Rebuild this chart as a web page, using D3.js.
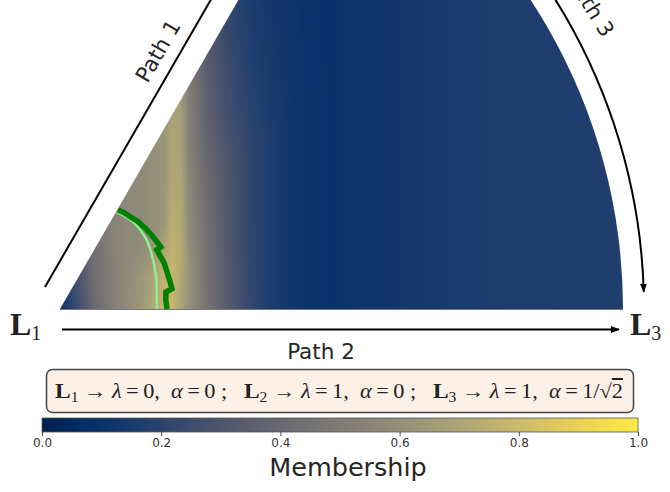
<!DOCTYPE html>
<html><head><meta charset="utf-8">
<script src="https://cdn.jsdelivr.net/npm/d3@7"></script>
<style>body{margin:0;background:#fff;} svg{display:block}</style>
</head><body>
<svg id="chart" width="670" height="492"></svg>
<script>
// ---- data ----
// membership sampled along rays of constant alpha (deg), indexed by horizontal coordinate x (L1 = 0, L3 = 1)
const alphaDeg = [0, 20, 40, 60];
const xGrid = [0, 0.030, 0.060, 0.090, 0.120, 0.150, 0.170, 0.185, 0.200, 0.215, 0.230, 0.260, 0.300, 0.340, 0.380, 0.430, 0.480, 0.550, 0.650, 0.800, 1.000];
const membershipA0  = [0.08,0.24,0.40,0.50,0.58,0.66,0.73,0.78,0.78,0.70,0.60,0.46,0.32,0.22,0.15,0.11,0.10,0.12,0.14,0.16,0.17];
const membershipA20 = [0.08,0.25,0.41,0.51,0.58,0.65,0.71,0.76,0.78,0.72,0.60,0.45,0.31,0.21,0.15,0.11,0.10,0.12,0.14,0.16,0.17];
const membershipA40 = [0.10,0.26,0.42,0.52,0.57,0.58,0.60,0.64,0.74,0.72,0.56,0.42,0.30,0.21,0.15,0.11,0.10,0.12,0.14,0.16,0.17];
const membershipA60 = [0.10,0.27,0.43,0.53,0.57,0.58,0.60,0.63,0.70,0.66,0.50,0.34,0.22,0.15,0.12,0.10,0.10,0.12,0.14,0.16,0.17];
const membershipRows = [membershipA0, membershipA20, membershipA40, membershipA60];

// contour lines in (x, y) data units (L1 = origin, L3 = (1,0))
const contourOuter = [[0.103,0.176],[0.114,0.171],[0.126,0.163],[0.139,0.155],[0.151,0.144],[0.163,0.131],[0.174,0.117],[0.179,0.110],[0.172,0.105],[0.178,0.094],[0.185,0.082],[0.190,0.066],[0.195,0.050],[0.199,0.036],[0.188,0.030],[0.188,0.016],[0.190,0.000]];
const contourInner = [[0.101,0.172],[0.115,0.165],[0.130,0.155],[0.144,0.139],[0.155,0.121],[0.162,0.101],[0.167,0.080],[0.171,0.057],[0.172,0.032],[0.172,0.000]];

const cbTicks = [0, 0.2, 0.4, 0.6, 0.8, 1.0];
const pathLabels = ["Path 1", "Path 2", "Path 3"];
const vertexLabels = [{name:"L", sub:"1"}, {name:"L", sub:"3"}];
const sectorAngleDeg = 60;

// ---- layout ----
const svg = d3.select("#chart");
const W = 670, H = 492;
const ox = 60, oy = 309, R = 563;
const xS = d3.scaleLinear().domain([0, 1]).range([ox, ox + R]);
const yS = d3.scaleLinear().domain([0, 1]).range([oy, oy - R]);
const color = d3.scaleSequential(d3.interpolateCividis).domain([0, 1]);

function idxFrac(arr, v) {
  if (v <= arr[0]) return [0, 0];
  if (v >= arr[arr.length-1]) return [arr.length-2, 1];
  let i = d3.bisectRight(arr, v) - 1;
  if (i > arr.length - 2) i = arr.length - 2;
  return [i, (v - arr[i]) / (arr[i+1] - arr[i])];
}
function field(X, aDeg) {
  const [i, fi] = idxFrac(alphaDeg, aDeg);
  const [j, fj] = idxFrac(xGrid, X);
  const r0 = membershipRows[i], r1 = membershipRows[i+1];
  const v0 = r0[j] * (1-fj) + r0[j+1] * fj;
  const v1 = r1[j] * (1-fj) + r1[j+1] * fj;
  return v0 * (1-fi) + v1 * fi;
}

// heatmap raster
const canvas = document.createElement("canvas");
canvas.width = W; canvas.height = H;
const ctx = canvas.getContext("2d");
const img = ctx.createImageData(W, H);
for (let py = 0; py < 315; py++) {
  for (let px = 50; px < 632; px++) {
    const X = xS.invert(px + 0.5), Y = yS.invert(py + 0.5);
    let a = Math.atan2(Y, X) * 180 / Math.PI;
    a = Math.max(0, Math.min(60, a));
    const c = d3.rgb(color(field(Math.max(0, Math.min(1, X)), a)));
    const k = (py * W + px) * 4;
    img.data[k] = c.r; img.data[k+1] = c.g; img.data[k+2] = c.b; img.data[k+3] = 255;
  }
}
ctx.putImageData(img, 0, 0);

const defs = svg.append("defs");
const sectorArc = d3.arc()
  .innerRadius(0).outerRadius(R)
  .startAngle(Math.PI/2 - sectorAngleDeg*Math.PI/180).endAngle(Math.PI/2);
defs.append("clipPath").attr("id", "sectorClip")
  .append("path").attr("transform", `translate(${ox},${oy})`).attr("d", sectorArc());

svg.append("image").attr("href", canvas.toDataURL())
  .attr("x", 0).attr("y", 0).attr("width", W).attr("height", H)
  .attr("clip-path", "url(#sectorClip)");

// bottom edge line
svg.append("line").attr("x1", xS(0)).attr("x2", xS(1)).attr("y1", oy + 0.5).attr("y2", oy + 0.5)
  .attr("stroke", "#777").attr("stroke-width", 1);

// contours
const line = d3.line().x(d => xS(d[0])).y(d => yS(d[1]));
svg.append("path").attr("d", line(contourInner)).attr("fill", "none")
  .attr("stroke", "#90ee90").attr("stroke-width", 2.5);
svg.append("path").attr("d", line(contourOuter)).attr("fill", "none")
  .attr("stroke", "#008000").attr("stroke-width", 5.5).attr("stroke-linejoin", "miter");

// arrow marker
defs.append("marker").attr("id", "arrow").attr("viewBox", "0 -4 9 8")
  .attr("refX", 8).attr("refY", 0).attr("markerWidth", 9).attr("markerHeight", 8)
  .attr("markerUnits", "userSpaceOnUse").attr("orient", "auto")
  .append("path").attr("d", "M0,-3.5L9,0L0,3.5Z").attr("fill", "#000");

// Path 1 line (parallel to left edge)
const a60 = sectorAngleDeg * Math.PI / 180;
const dir = [Math.cos(a60), -Math.sin(a60)], nrm = [-Math.sin(a60), -Math.cos(a60)];
const off = 24;
svg.append("line")
  .attr("x1", ox + dir[0]*11.6 + nrm[0]*off).attr("y1", oy + dir[1]*11.6 + nrm[1]*off)
  .attr("x2", ox + dir[0]*600 + nrm[0]*off).attr("y2", oy + dir[1]*600 + nrm[1]*off)
  .attr("stroke", "#000").attr("stroke-width", 2);

// Path 2 arrow
svg.append("line").attr("x1", 62).attr("x2", 619).attr("y1", 329.5).attr("y2", 329.5)
  .attr("stroke", "#000").attr("stroke-width", 2).attr("marker-end", "url(#arrow)");

// Path 3 arc arrow
const R3 = 584;
const p3 = d3.path();
const th0 = -70 * Math.PI/180, th1 = -1.7 * Math.PI/180;
p3.moveTo(ox + R3*Math.cos(th0), oy + R3*Math.sin(th0));
p3.arc(ox, oy, R3, th0, th1, false);
svg.append("path").attr("d", p3.toString()).attr("fill", "none")
  .attr("stroke", "#000").attr("stroke-width", 2).attr("marker-end", "url(#arrow)");

// path labels
const lblStyle = s => s.attr("font-family", "DejaVu Sans").attr("font-size", 21.5).attr("fill", "#262626")
  .attr("text-anchor", "middle").attr("dominant-baseline", "central");
svg.append("text").text(pathLabels[0]).call(lblStyle)
  .attr("transform", "translate(158,51) rotate(-60)");
svg.append("text").text(pathLabels[1]).call(lblStyle)
  .attr("transform", "translate(321,351)");
svg.append("text").text(pathLabels[2]).call(lblStyle)
  .attr("transform", "translate(591,6) rotate(58)");

// vertex labels
const vPos = [[10, 335], [630, 335]];
vertexLabels.forEach((v, i) => {
  const t = svg.append("text").attr("x", vPos[i][0]).attr("y", vPos[i][1])
    .attr("font-family", "Liberation Serif").attr("fill", "#222");
  t.append("tspan").text(v.name).attr("font-weight", "bold").attr("font-size", 32);
  t.append("tspan").text(v.sub).attr("font-size", 20).attr("dy", 5);
});

// legend box
svg.append("rect").attr("x", 46.5).attr("y", 369.5).attr("width", 587).attr("height", 43)
  .attr("rx", 6).attr("fill", "#fdf0e6").attr("stroke", "#444").attr("stroke-width", 1.5);
const lt = svg.append("text").attr("x", 55).attr("y", 398).attr("font-family", "Liberation Serif")
  .attr("font-size", 20).attr("fill", "#222");
const th = "\u2009";
const legendParts = [
  {t:"L", b:true}, {t:"1", sub:true}, {t:" \u2192 "}, {t:"\u03bb", i:true}, {t:th+"="+th+"0,  "}, {t:"\u03b1", i:true}, {t:th+"="+th+"0 ;   "},
  {t:"L", b:true}, {t:"2", sub:true}, {t:" \u2192 "}, {t:"\u03bb", i:true}, {t:th+"="+th+"1,  "}, {t:"\u03b1", i:true}, {t:th+"="+th+"0 ;   "},
  {t:"L", b:true}, {t:"3", sub:true}, {t:" \u2192 "}, {t:"\u03bb", i:true}, {t:th+"="+th+"1,  "}, {t:"\u03b1", i:true}, {t:th+"="+th+"1/\u221a"}, {t:"2", over:true}
];
let prevSub = false;
legendParts.forEach(p => {
  const ts = lt.append("tspan").text(p.t).style("white-space", "pre");
  if (p.b) ts.attr("font-weight", "bold").attr("font-size", 21);
  if (p.i) ts.attr("font-style", "italic");
  if (p.sub) { ts.attr("font-size", 14).attr("dy", 4); prevSub = true; }
  else if (prevSub) { ts.attr("dy", -4); prevSub = false; }
  if (p.over) ts.style("text-decoration", "overline");
});
lt.attr("xml:space", "preserve").style("white-space", "pre");
const ltLen = lt.node().getComputedTextLength();
if (ltLen > 0) lt.attr("textLength", 568).attr("lengthAdjust", "spacingAndGlyphs");

// colorbar
const cbX = d3.scaleLinear().domain([0, 1]).range([42, 638]);
const grad = defs.append("linearGradient").attr("id", "cbGrad");
d3.range(0, 1.0001, 0.05).forEach(s => grad.append("stop").attr("offset", s).attr("stop-color", color(s)));
svg.append("rect").attr("x", cbX(0)).attr("y", 418).attr("width", cbX(1) - cbX(0)).attr("height", 14)
  .attr("fill", "url(#cbGrad)").attr("stroke", "#555").attr("stroke-width", 0.8);
const cbAxis = svg.append("g").attr("transform", "translate(0,432)")
  .call(d3.axisBottom(cbX).tickValues(cbTicks).tickFormat(d3.format(".1f")).tickSize(4).tickPadding(2));
cbAxis.select(".domain").remove();
cbAxis.selectAll("line").attr("stroke", "#444");
cbAxis.selectAll("text").attr("font-family", "DejaVu Sans").attr("font-size", 12).attr("fill", "#333");
svg.append("text").text("Membership").attr("x", 348).attr("y", 476)
  .attr("text-anchor", "middle").attr("font-family", "DejaVu Sans").attr("font-size", 25.5).attr("fill", "#262626");
</script>
</body></html>
